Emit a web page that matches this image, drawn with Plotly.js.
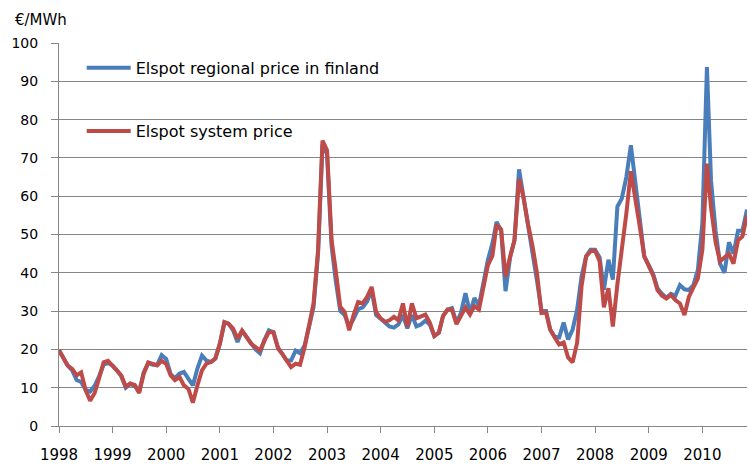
<!DOCTYPE html>
<html>
<head>
<meta charset="utf-8">
<script src="https://cdn.plot.ly/plotly-3.0.1.min.js"></script>
<style>html,body{margin:0;padding:0;background:#fff;}#chart{width:749px;height:466px;}</style>
</head>
<body>
<div id="chart"></div>
<script>
// Monthly series, Jan 1998 .. Nov 2010 (EUR/MWh)
var startYear = 1998;
var yearLabels = ["1998","1999","2000","2001","2002","2003","2004","2005","2006","2007","2008","2009","2010"];
var seriesNames = ["Elspot regional price in finland", "Elspot system price"];

var finlandPrice = [
  19.8, 17.5, 15.8, 14.5, 12.0, 11.5, 9.5, 9.0, 10.5, 13.0, 16.0, 16.5,
  15.8, 14.5, 13.0, 10.0, 11.0, 10.5, 9.0, 14.0, 16.5, 16.0, 16.0, 18.5,
  17.5, 13.5, 12.5, 13.7, 14.1, 12.3, 10.6, 15.0, 18.4, 17.1, 16.7, 17.6,
  21.5, 27.1, 26.7, 25.0, 21.9, 24.9, 23.2, 21.5, 20.0, 19.0, 22.5, 25.0,
  24.5, 20.5, 18.9, 17.1, 17.1, 19.7, 19.0, 21.0, 26.0, 31.0, 45.0, 73.5,
  71.0, 47.0, 38.0, 30.0, 29.0, 26.0, 28.0, 30.5, 31.0, 32.5, 35.5, 29.0,
  28.0, 27.0, 26.0, 25.7, 26.5, 29.0, 25.5, 29.0, 26.0, 26.5, 27.5, 26.5,
  23.5, 24.4, 28.7, 30.4, 30.8, 27.0, 29.5, 34.7, 29.5, 33.4, 31.5, 37.3,
  43.4, 47.7, 53.3, 51.0, 35.2, 44.0, 48.5, 67.0, 60.0, 53.0, 46.0, 38.0,
  30.0, 30.0, 25.2, 23.3, 23.1, 27.0, 22.6, 25.2, 30.4, 39.1, 44.3, 46.0,
  46.0, 44.0, 35.6, 43.4, 38.2, 57.3, 59.4, 65.0, 73.3, 64.2, 55.5, 44.3,
  42.0, 39.5, 36.0, 34.5, 33.5, 34.5, 34.0, 36.8, 35.7, 35.5, 36.8, 40.7,
  53.0, 93.7, 64.0, 51.0, 42.4, 40.0, 48.0, 45.0, 51.0, 51.0, 56.5
];

var systemPrice = [
  19.8, 17.5, 15.8, 14.9, 13.2, 14.0, 9.4, 6.6, 8.6, 12.4, 16.6, 17.0,
  15.8, 14.5, 13.2, 10.3, 11.1, 10.7, 8.6, 13.6, 16.6, 16.2, 15.8, 17.0,
  16.2, 13.2, 12.0, 12.8, 10.6, 9.7, 6.1, 10.6, 14.5, 16.3, 16.7, 17.6,
  21.5, 27.1, 26.7, 25.4, 22.8, 24.9, 23.2, 21.5, 20.6, 19.7, 22.3, 24.5,
  24.5, 20.2, 18.9, 17.1, 15.4, 16.3, 16.0, 20.5, 26.5, 32.0, 46.0, 74.5,
  72.0, 48.5, 40.7, 31.1, 29.8, 25.0, 29.0, 32.4, 32.0, 33.7, 36.3, 29.8,
  28.1, 27.2, 27.6, 28.5, 27.6, 32.0, 25.9, 32.0, 28.1, 28.7, 29.1, 27.0,
  23.5, 24.4, 28.7, 30.4, 30.4, 26.6, 28.7, 30.9, 29.1, 31.3, 30.4, 35.6,
  42.0, 44.5, 52.5, 51.3, 39.0, 44.2, 48.5, 64.5, 59.5, 52.8, 47.0, 40.0,
  29.5, 29.6, 25.2, 23.1, 21.3, 21.8, 17.9, 16.6, 21.8, 36.5, 44.3, 45.6,
  45.8, 43.0, 31.0, 36.0, 26.0, 37.0, 45.2, 55.5, 66.5, 60.0, 52.0, 44.3,
  41.6, 39.2, 35.5, 34.0, 33.3, 34.2, 32.9, 32.0, 29.0, 33.7, 36.2, 38.5,
  46.0, 68.5, 57.0, 48.0, 43.0, 44.2, 45.0, 42.4, 48.5, 49.5, 55.0
];

function pad(n){ return (n < 10 ? "0" : "") + n; }
var months = finlandPrice.map(function(_, i){
  var y = startYear + Math.floor(i / 12);
  var m = (i % 12) + 1;
  return y + "-" + pad(m) + "-01";
});
var yearTicks = yearLabels.map(function(y){ return y + "-01-01"; });

var gray = "#868686";
var traces = [
  {x: months, y: finlandPrice, type: "scatter", mode: "lines", name: seriesNames[0],
   line: {color: "#4A7EBB", width: 4}, legend: "legend"},
  {x: months, y: systemPrice, type: "scatter", mode: "lines", name: seriesNames[1],
   line: {color: "#BE4B48", width: 4}, legend: "legend2"}
];

var layout = {
  width: 749, height: 466,
  margin: {l: 59, r: 2, t: 43, b: 40},
  paper_bgcolor: "#ffffff", plot_bgcolor: "#ffffff",
  font: {family: "DejaVu Sans, sans-serif", size: 14, color: "#000000"},
  showlegend: true,
  xaxis: {
    type: "date", range: [months[0], months[months.length - 1]],
    tickvals: yearTicks, ticktext: yearLabels,
    ticks: "outside", ticklen: 6, tickcolor: gray, tickwidth: 1,
    showline: true, linecolor: gray, linewidth: 1,
    showgrid: false, zeroline: false,
    tickfont: {size: 15}, ticklabelstandoff: 9
  },
  yaxis: {
    range: [0, 100], tick0: 0, dtick: 10,
    ticks: "outside", ticklen: 7, tickcolor: gray, tickwidth: 1,
    showline: true, linecolor: gray, linewidth: 1,
    showgrid: true, gridcolor: gray, gridwidth: 1, zeroline: false,
    tickfont: {size: 14}, ticklabelstandoff: 10
  },
  legend: {x: 0.033, y: 0.935, xanchor: "left", yanchor: "middle",
           font: {size: 16}, bgcolor: "rgba(0,0,0,0)", itemwidth: 44},
  legend2: {x: 0.033, y: 0.770, xanchor: "left", yanchor: "middle",
           font: {size: 16}, bgcolor: "rgba(0,0,0,0)", itemwidth: 44},
  annotations: [{
    text: "€/MWh", xref: "paper", yref: "paper", x: -0.067, y: 1.06,
    xanchor: "left", yanchor: "middle", showarrow: false, font: {size: 15}
  }]
};

Plotly.newPlot("chart", traces, layout, {displayModeBar: false, staticPlot: true});
</script>
</body>
</html>
